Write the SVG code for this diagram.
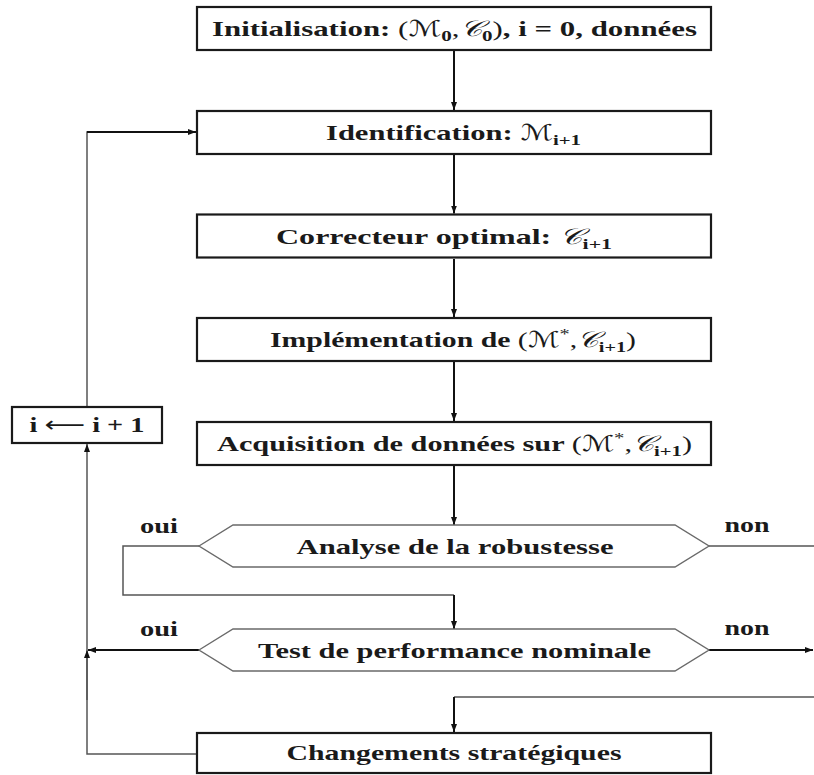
<svg xmlns="http://www.w3.org/2000/svg" width="814" height="775" viewBox="0 0 814 775">
<style>
.box{fill:#fff;stroke:#1a1a1a;stroke-width:2.2}
.hex{fill:#fff;stroke:#6a6a6a;stroke-width:1.4}
.c{fill:none;stroke:#111;stroke-width:2}
.cg{fill:none;stroke:#555;stroke-width:1.5}
.t{font-family:"Liberation Serif","Times New Roman",serif;font-weight:bold;font-size:22px;fill:#1a1a1a}
.m{font-family:"DejaVu Serif","DejaVu Sans",serif;font-weight:normal;font-style:italic}
.n{font-weight:normal}
.s{font-size:15px}
</style>
<defs>
<marker id="ah" viewBox="0 0 8 6" refX="8" refY="3" markerWidth="8" markerHeight="6" markerUnits="userSpaceOnUse" orient="auto">
<path d="M0,0 L8,3 L0,6 z" fill="#111"/>
</marker>
</defs>
<g id="connectors">
<line class="c" x1="454" y1="51" x2="454" y2="110" marker-end="url(#ah)"/>
<line class="c" x1="454" y1="155" x2="454" y2="213.5" marker-end="url(#ah)"/>
<line class="c" x1="454" y1="259" x2="454" y2="317" marker-end="url(#ah)"/>
<line class="c" x1="454" y1="362" x2="454" y2="421" marker-end="url(#ah)"/>
<line class="c" x1="454" y1="466" x2="454" y2="525" marker-end="url(#ah)"/>
<polyline class="cg" points="199,546 123,546 123,595 454,595"/>
<line class="c" x1="454" y1="595" x2="454" y2="629" marker-end="url(#ah)"/>
<line class="cg" x1="709" y1="546" x2="814" y2="546"/>
<line class="c" x1="709" y1="650" x2="813" y2="650" marker-end="url(#ah)"/>
<line class="c" x1="199" y1="650" x2="88" y2="650" marker-end="url(#ah)"/>
<polyline class="cg" points="814,697 454,697"/>
<line class="c" x1="454" y1="697" x2="454" y2="732" marker-end="url(#ah)"/>
<polyline class="cg" points="197,754 87,754 87,651"/>
<line class="cg" x1="87" y1="700" x2="87" y2="650" marker-end="url(#ah)"/>
<line class="cg" x1="87" y1="650" x2="87" y2="444" marker-end="url(#ah)"/>
<polyline class="cg" points="87,407 87,132 150,132"/>
<line class="c" x1="87" y1="132" x2="196" y2="132" marker-end="url(#ah)"/>
</g>
<g id="init">
<rect class="box" x="197" y="7" width="514" height="43"/>
<text class="t" x="454.5" y="36" text-anchor="middle" textLength="485" lengthAdjust="spacingAndGlyphs">Initialisation: <tspan class="n">(</tspan><tspan class="m">ℳ</tspan><tspan class="s" dy="5">0</tspan><tspan class="n" dy="-5">,</tspan><tspan class="m">𝒞</tspan><tspan class="s" dy="5">0</tspan><tspan class="n" dy="-5">)</tspan>, i = 0, données</text>
</g>
<g id="ident">
<rect class="box" x="197" y="111" width="514" height="43"/>
<text class="t" x="453.5" y="140" text-anchor="middle" textLength="255" lengthAdjust="spacingAndGlyphs">Identification: <tspan class="m">ℳ</tspan><tspan class="s" dy="5">i+1</tspan></text>
</g>
<g id="correcteur">
<rect class="box" x="197" y="214.5" width="514" height="43"/>
<text class="t" x="444" y="244" text-anchor="middle" textLength="336" lengthAdjust="spacingAndGlyphs">Correcteur optimal: <tspan class="m">𝒞</tspan><tspan class="s" dy="5">i+1</tspan></text>
</g>
<g id="implementation">
<rect class="box" x="197" y="318" width="514" height="43"/>
<text class="t" x="453" y="347" text-anchor="middle" textLength="366" lengthAdjust="spacingAndGlyphs">Implémentation de <tspan class="n">(</tspan><tspan class="m">ℳ</tspan><tspan class="n s" dy="-8">*</tspan><tspan class="n" dy="8">,</tspan><tspan class="m">𝒞</tspan><tspan class="s" dy="5">i+1</tspan><tspan class="n" dy="-5">)</tspan></text>
</g>
<g id="acquisition">
<rect class="box" x="197" y="422" width="514" height="43"/>
<text class="t" x="454.5" y="451" text-anchor="middle" textLength="475" lengthAdjust="spacingAndGlyphs">Acquisition de données sur <tspan class="n">(</tspan><tspan class="m">ℳ</tspan><tspan class="n s" dy="-8">*</tspan><tspan class="n" dy="8">,</tspan><tspan class="m">𝒞</tspan><tspan class="s" dy="5">i+1</tspan><tspan class="n" dy="-5">)</tspan></text>
</g>
<g id="robustesse">
<polygon class="hex" points="199,546 233,525 675,525 709,546 675,567 233,567"/>
<text class="t" x="455" y="553.5" text-anchor="middle" textLength="317" lengthAdjust="spacingAndGlyphs">Analyse de la robustesse</text>
</g>
<g id="performance">
<polygon class="hex" points="199,650 233,629 675,629 709,650 675,671 233,671"/>
<text class="t" x="454.5" y="657.5" text-anchor="middle" textLength="393" lengthAdjust="spacingAndGlyphs">Test de performance nominale</text>
</g>
<g id="changements">
<rect class="box" x="197" y="733" width="514" height="40"/>
<text class="t" x="454" y="760" text-anchor="middle" textLength="335" lengthAdjust="spacingAndGlyphs">Changements stratégiques</text>
</g>
<g id="increment">
<rect class="box" x="12" y="407" width="150" height="36"/>
<text class="t" x="87" y="432" text-anchor="middle" textLength="115" lengthAdjust="spacingAndGlyphs">i <tspan class="n" font-family="DejaVu Sans">⟵</tspan> i + 1</text>
</g>
<g id="labels">
<text class="t" x="159" y="533" text-anchor="middle" textLength="38" lengthAdjust="spacingAndGlyphs">oui</text>
<text class="t" x="159" y="636" text-anchor="middle" textLength="38" lengthAdjust="spacingAndGlyphs">oui</text>
<text class="t" x="747" y="532" text-anchor="middle" textLength="45" lengthAdjust="spacingAndGlyphs">non</text>
<text class="t" x="747" y="635" text-anchor="middle" textLength="45" lengthAdjust="spacingAndGlyphs">non</text>
</g>
</svg>
